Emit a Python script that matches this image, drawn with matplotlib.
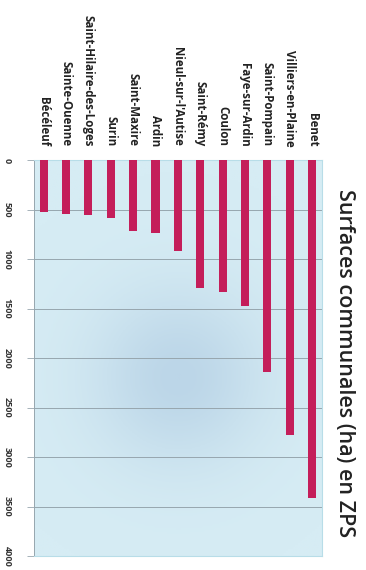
import matplotlib

matplotlib.use("Agg")
import matplotlib.pyplot as plt
import numpy as np
from matplotlib.colors import LinearSegmentedColormap

# communes (left to right) and their surface in the ZPS, in hectares
COMMUNES = [
    "Bécéleuf",
    "Sainte-Ouenne",
    "Saint-Hilaire-des-Loges",
    "Surin",
    "Saint-Maxire",
    "Ardin",
    "Nieul-sur-l'Autise",
    "Saint-Rémy",
    "Coulon",
    "Faye-sur-Ardin",
    "Saint-Pompain",
    "Villiers-en-Plaine",
    "Benet",
]
SURFACES_HA = [520, 540, 555, 585, 715, 740, 920, 1295, 1330, 1470, 2135, 2780, 3410]
VALUE_TICKS = [0, 500, 1000, 1500, 2000, 2500, 3000, 3500, 4000]

BAR_COLOR = "#c41e5a"
BG_COLOR = "#d6ecf4"
GRID_COLOR = "#97a6ae"

plt.rcParams["font.family"] = ["Open Sans", "DejaVu Sans"]

fig = plt.figure(figsize=(3.66, 5.70), dpi=100)
ax = fig.add_axes([0.092, 0.024, 0.788, 0.695])

x = np.arange(len(COMMUNES))
ax.set_ylim(4000, 0)
ax.set_xlim(-0.45, len(COMMUNES) - 0.55)

# soft darker blue shading in the middle of the plot background
gx, gy = np.meshgrid(np.linspace(0, 1, 120), np.linspace(0, 1, 200))
shade = np.exp(-(((gx - 0.5) / 0.3) ** 2 + ((gy - 0.55) / 0.22) ** 2))
bg_cmap = LinearSegmentedColormap.from_list("bg", [BG_COLOR, "#bcd6e8"])
ax.imshow(shade, cmap=bg_cmap, aspect="auto", extent=(-0.45, len(COMMUNES) - 0.55, 4000, 0),
          origin="upper", zorder=0)

ax.bar(x, SURFACES_HA, width=0.36, color=BAR_COLOR, zorder=3)

ax.set_yticks(VALUE_TICKS)
ax.set_yticklabels([str(v) for v in VALUE_TICKS], rotation=-90, fontsize=6.5,
                   fontweight="bold", color="#333333", va="center", ha="center")
ax.tick_params(axis="y", length=5, width=0.6, color=GRID_COLOR, pad=14)
ax.yaxis.grid(True, color=GRID_COLOR, lw=0.7, zorder=1)

ax.xaxis.tick_top()
ax.set_xticks(x)
ax.set_xticklabels(COMMUNES, rotation=-90, fontsize=8.3, fontweight="bold",
                   color="#222222", va="bottom", ha="center")
ax.tick_params(axis="x", length=0, pad=10)

for side in ["top", "right", "bottom"]:
    ax.spines[side].set_color("#b8dde8")
    ax.spines[side].set_linewidth(0.8)
ax.spines["left"].set_color(GRID_COLOR)
ax.spines["left"].set_linewidth(0.7)

fig.text(0.94, 0.363, "Surfaces communales (ha) en ZPS", rotation=-90,
         fontsize=15.5, fontweight="semibold", color="#222222",
         ha="center", va="center")

fig.savefig("out.png", dpi=100, facecolor="white")
